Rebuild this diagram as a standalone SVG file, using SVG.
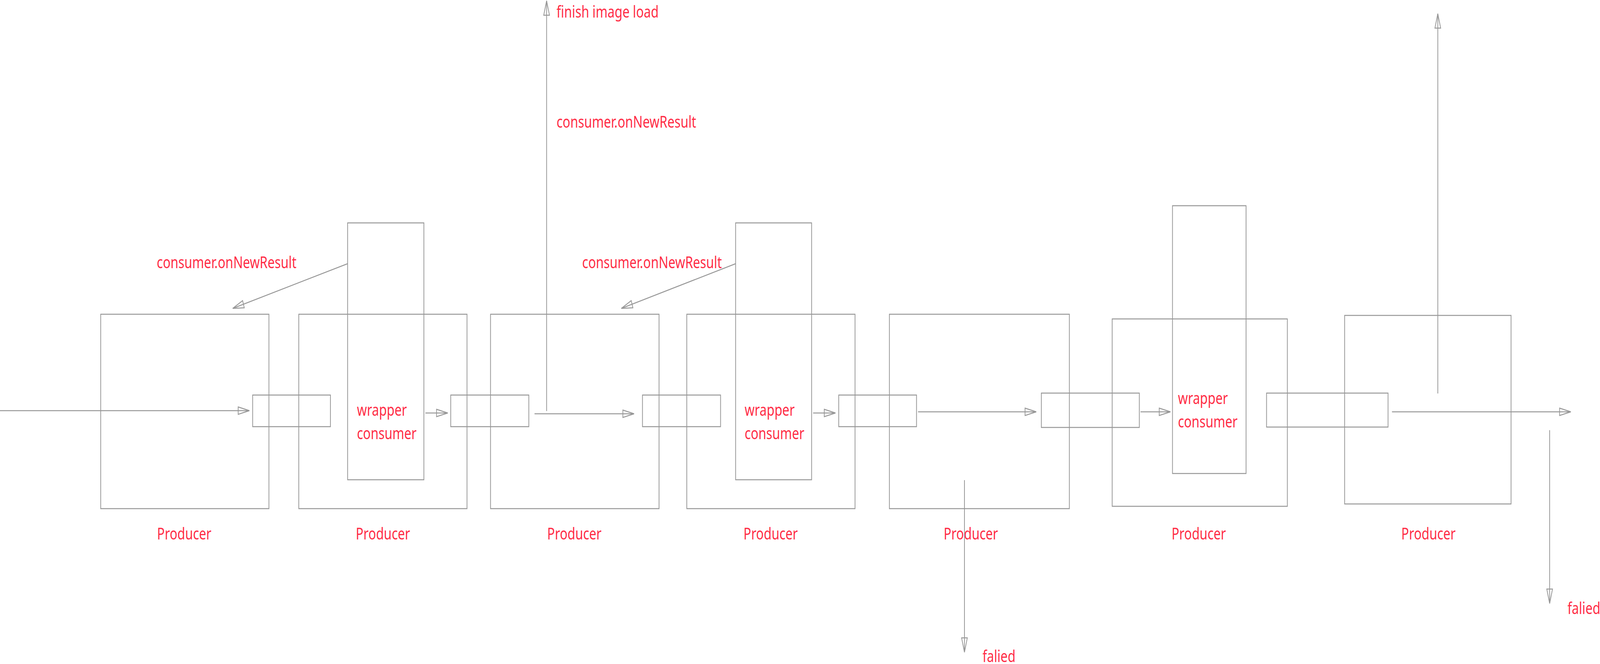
<svg xmlns="http://www.w3.org/2000/svg" width="5307" height="1701" viewBox="0 0 5307 1701" preserveAspectRatio="none" style="width:100%;height:100%;display:block">
<style>
.box{fill:none;stroke:#979797;stroke-width:2.5}
.ln{fill:none;stroke:#979797;stroke-width:2.5;marker-end:url(#arr)}
.t{font-family:"Noto Sans","Liberation Sans",sans-serif;font-size:42px;fill:#ff2d46}
</style>
<defs>
<marker id="arr" markerUnits="userSpaceOnUse" markerWidth="42" markerHeight="24" refX="38" refY="11" orient="auto" overflow="visible">
<path d="M1,1.5 L38,11 L1,20.5 Z" fill="none" stroke="#979797" stroke-width="2.5"/>
</marker>
</defs>
<rect width="5307" height="1701" fill="#ffffff"/>
<g id="producer1"><rect class="box" x="334" y="805" width="558" height="498"/><text class="t" x="521" y="1382">Producer</text></g>
<g id="producer2"><rect class="box" x="991" y="805" width="558" height="498"/><text class="t" x="1180" y="1382">Producer</text></g>
<g id="producer3"><rect class="box" x="1627" y="805" width="559" height="498"/><text class="t" x="1815" y="1382">Producer</text></g>
<g id="producer4"><rect class="box" x="2278" y="805" width="558" height="498"/><text class="t" x="2466" y="1382">Producer</text></g>
<g id="producer5"><rect class="box" x="2950" y="805" width="597" height="498"/><text class="t" x="3130" y="1382">Producer</text></g>
<g id="producer6"><rect class="box" x="3689" y="817" width="581" height="480"/><text class="t" x="3886" y="1382">Producer</text></g>
<g id="producer7"><rect class="box" x="4460" y="808" width="552" height="483"/><text class="t" x="4648" y="1382">Producer</text></g>
<g id="wrapper1"><rect class="box" x="1153" y="571" width="253" height="658"/><text class="t" x="1184" y="1065">wrapper</text><text class="t" x="1184" y="1125">consumer</text></g>
<g id="wrapper2"><rect class="box" x="2440" y="571" width="252" height="658"/><text class="t" x="2470" y="1065">wrapper</text><text class="t" x="2470" y="1125">consumer</text></g>
<g id="wrapper3"><rect class="box" x="3889" y="527" width="244" height="686"/><text class="t" x="3907" y="1035">wrapper</text><text class="t" x="3907" y="1095">consumer</text></g>
<g id="consumer1"><rect class="box" x="838" y="1012" width="258" height="81"/></g>
<g id="consumer2"><rect class="box" x="1495" y="1012" width="259" height="81"/></g>
<g id="consumer3"><rect class="box" x="2131" y="1012" width="259" height="81"/></g>
<g id="consumer4"><rect class="box" x="2782" y="1012" width="258" height="81"/></g>
<g id="consumer5"><rect class="box" x="3454" y="1007" width="325" height="88"/></g>
<g id="consumer6"><rect class="box" x="4201" y="1007" width="403" height="87"/></g>
<g id="connectors">
<line class="ln" x1="0" y1="1052" x2="827" y2="1052"/>
<line class="ln" x1="1411" y1="1058" x2="1485" y2="1058"/>
<line class="ln" x1="1813" y1="1053" x2="1813" y2="2"/>
<line class="ln" x1="1773" y1="1060" x2="2103" y2="1060"/>
<line class="ln" x1="1153" y1="675.5" x2="772" y2="790"/>
<line class="ln" x1="2440" y1="675.5" x2="2061" y2="790"/>
<line class="ln" x1="2697" y1="1058" x2="2771" y2="1058"/>
<line class="ln" x1="3045" y1="1055" x2="3437" y2="1055"/>
<line class="ln" x1="3199" y1="1230" x2="3199" y2="1671"/>
<line class="ln" x1="3783" y1="1055" x2="3882" y2="1055"/>
<line class="ln" x1="4769" y1="1008" x2="4769" y2="35"/>
<line class="ln" x1="4617" y1="1055" x2="5210" y2="1055"/>
<line class="ln" x1="5140" y1="1102" x2="5140" y2="1546"/>
</g>
<g id="labels">
<text class="t" x="520" y="687">consumer.onNewResult</text>
<text class="t" x="1931" y="687">consumer.onNewResult</text>
<text class="t" x="1846" y="45">finish image load</text>
<text class="t" x="1846" y="327">consumer.onNewResult</text>
<text class="t" x="3259" y="1696">falied</text>
<text class="t" x="5199" y="1573">falied</text>
</g>
</svg>
